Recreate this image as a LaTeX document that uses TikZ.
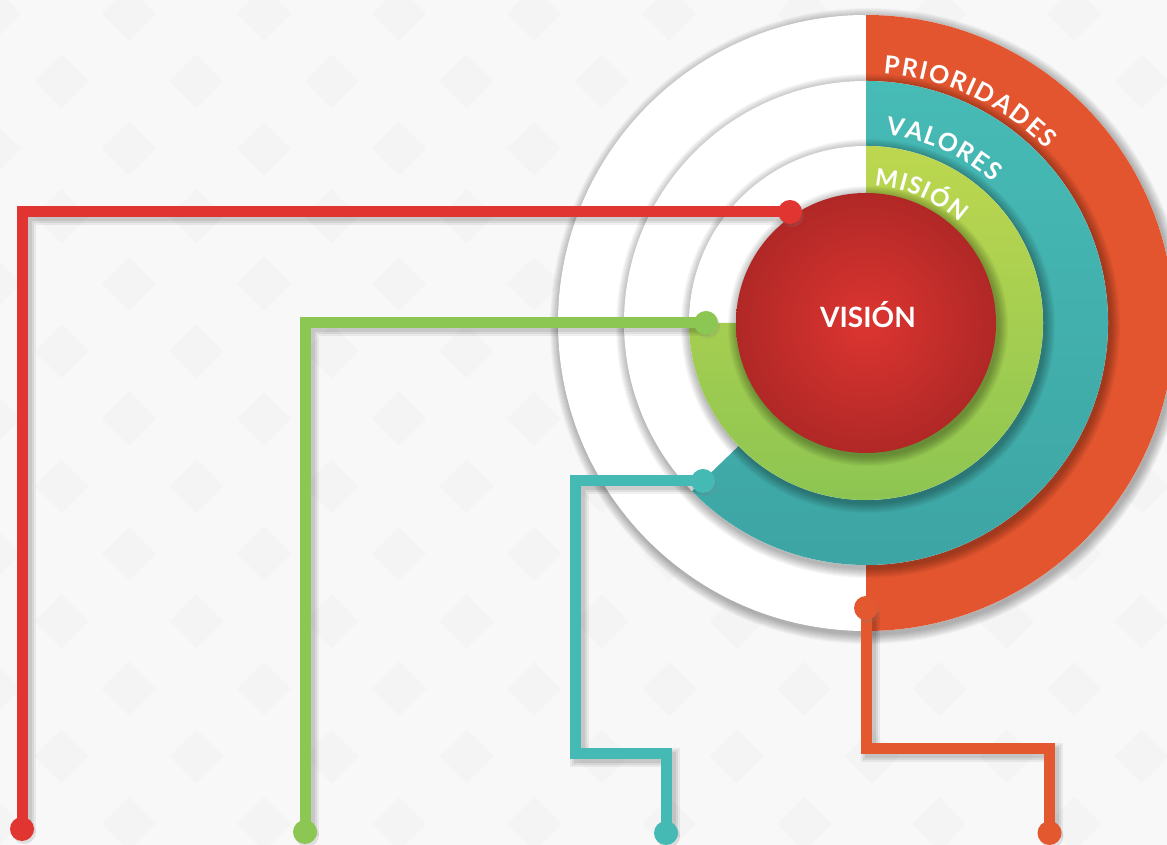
\documentclass[tikz,border=0pt]{standalone}
\usepackage{fontspec}
\setmainfont{Lato}
\usetikzlibrary{calc,decorations.text,shadows}

\definecolor{paper}{HTML}{F8F8F8}
\definecolor{tile}{HTML}{F4F4F4}
\definecolor{priocol}{HTML}{E2552F}
\definecolor{valtop}{HTML}{47BBB6}
\definecolor{valbot}{HTML}{3DA5A4}
\definecolor{mislime}{HTML}{BDD74F}
\definecolor{misgreen}{HTML}{8DC552}
\definecolor{visin}{HTML}{DD3531}
\definecolor{visout}{HTML}{B02826}
\definecolor{visline}{HTML}{E13531}
\definecolor{misline}{HTML}{8CC653}
\definecolor{valline}{HTML}{45BAB4}
\definecolor{prioline}{HTML}{E3582E}

\pgfdeclarelayer{bg}
\pgfdeclarelayer{cables}
\pgfsetlayers{bg,cables,main}

\tikzset{
  ringshadow/.style={fill=black, opacity=.03},
  cable/.style={draw=#1, line width=11,
    preaction={draw=black, opacity=.06, line width=19, transform canvas={shift={(4,-4)}}},
    preaction={draw=black, opacity=.07, line width=15, transform canvas={shift={(4,-4)}}},
    preaction={draw=black, opacity=.08, line width=11, transform canvas={shift={(4,-4)}}}},
  endpoint/.style={circle, fill=#1, minimum size=24, inner sep=0,
    drop shadow={shadow xshift=2pt, shadow yshift=-3pt, opacity=.2}},
  arclabel/.style 2 args={decorate, decoration={text along path, text align=fit to path,
    text color=white, text={|\bfseries\fontsize{#1}{#1}\selectfont|#2}}},
}

\begin{document}
\begin{tikzpicture}[x=1pt,y=1pt]
    \useasboundingbox (0,0) rectangle (1167,845);
    \clip (0,0) rectangle (1167,845);
    \coordinate (c) at (866,522);

    \begin{pgfonlayer}{bg}
        \fill[paper] (0,0) rectangle (1167,845);
        % faint diamond tiles
        \foreach \j in {0,...,12}{
            \foreach \i in {-1,...,8}{
                \fill[tile] ({129-67.5*mod(\j,2)+135*\i},{831-67.5*\j})
                    ++(0,27) -- ++(27,-27) -- ++(-27,-27) -- ++(-27,27) -- cycle;
            }
        }
        % prioridades
        \foreach \k in {1,...,10} \fill[ringshadow] ($(c)+(2,-3)$) circle[radius=308+\k];
        \fill[white] (c) circle[radius=308];
        \fill[priocol] (c) -- ($(c)+(90:308)$) arc[start angle=90, end angle=-90, radius=308] -- cycle;
        % valores
        \foreach \k in {1,...,10} \fill[ringshadow] ($(c)+(2,-3)$) circle[radius=242+\k];
        \fill[white] (c) circle[radius=242];
        \shade[top color=valtop, bottom color=valbot]
            (c) -- ($(c)+(90:242)$) arc[start angle=90, end angle=-136, radius=242] -- cycle;
        % mision
        \foreach \k in {1,...,10} \fill[ringshadow] ($(c)+(2,-3)$) circle[radius=177+\k];
        \fill[white] (c) circle[radius=177];
        \shade[top color=mislime, bottom color=misgreen]
            (c) -- ($(c)+(90:177)$) arc[start angle=90, end angle=-180, radius=177] -- cycle;
        % vision
        \foreach \k in {1,...,10} \fill[ringshadow] ($(c)+(2,-3)$) circle[radius=130+\k];
        \shade[inner color=visin, outer color=visout] (c) circle[radius=130];
    \end{pgfonlayer}

    % ring labels
    \node[text=white, font=\bfseries\fontsize{28}{28}\selectfont] (vision) at ($(c)+(2,8)$) {VISIÓN};
    \path[arclabel={25}{PRIORIDADES}] ($(c)+(86:250)$) arc[start angle=86, end angle=44, radius=250];
    \path[arclabel={25}{VALORES}] ($(c)+(84:189)$) arc[start angle=84, end angle=48, radius=189];
    \path[arclabel={24}{MISIÓN}] ($(c)+(86.5:137)$) arc[start angle=86.5, end angle=47, radius=137];

    % end points
    \node[endpoint=visline] (vis-dot) at (790,633) {};
    \node[endpoint=visline] (vis-end) at (22,16) {};
    \node[endpoint=misline] (mis-dot) at (706,522) {};
    \node[endpoint=misline] (mis-end) at (305,13) {};
    \node[endpoint=valline] (val-dot) at (703,364) {};
    \node[endpoint=valline] (val-end) at (666,12) {};
    \node[endpoint=prioline] (prio-dot) at (866,237) {};
    \node[endpoint=prioline] (prio-end) at (1049.5,12) {};
    \coordinate (val-bend) at (575.5,91);
    \coordinate (prio-bend) at (1049.5,96);

    \begin{pgfonlayer}{cables}
        \draw[cable=visline] (vis-dot.center) -| (vis-end.center);
        \draw[cable=misline] (mis-dot.center) -| (mis-end.center);
        \draw[cable=valline] (val-dot.center) -| (val-bend) -| (val-end.center);
        \draw[cable=prioline] (prio-dot.center) |- (prio-bend) -- (prio-end.center);
    \end{pgfonlayer}
\end{tikzpicture}
\end{document}
